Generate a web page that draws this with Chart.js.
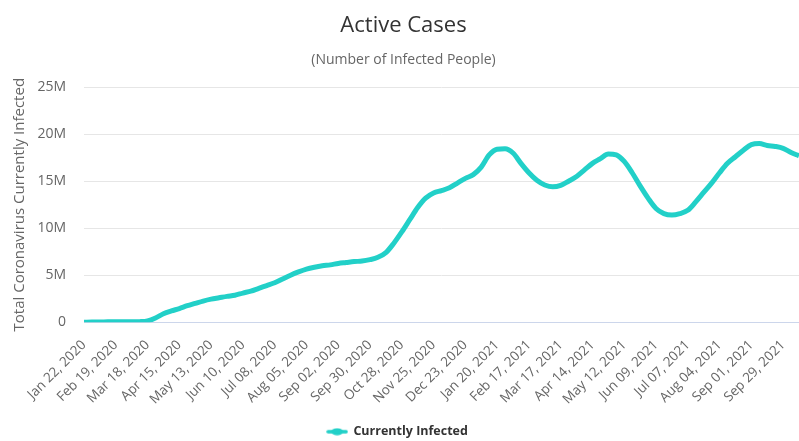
<!DOCTYPE html>
<html>
<head>
<meta charset="utf-8">
<script src="https://cdn.jsdelivr.net/npm/chart.js@4/dist/chart.umd.min.js"></script>
<style>
  body { margin: 0; background: #fff; }
  #wrap { width: 799px; height: 441px; }
</style>
</head>
<body>
<div id="wrap"><canvas id="active-chart"></canvas></div>
<script>
// weekly dates, every 4th one gets a label
var dates = [
  'Jan 22, 2020','Jan 29, 2020','Feb 05, 2020','Feb 12, 2020','Feb 19, 2020','Feb 26, 2020','Mar 04, 2020','Mar 11, 2020',
  'Mar 18, 2020','Mar 25, 2020','Apr 01, 2020','Apr 08, 2020','Apr 15, 2020','Apr 22, 2020','Apr 29, 2020','May 06, 2020',
  'May 13, 2020','May 20, 2020','May 27, 2020','Jun 03, 2020','Jun 10, 2020','Jun 17, 2020','Jun 24, 2020','Jul 01, 2020',
  'Jul 08, 2020','Jul 15, 2020','Jul 22, 2020','Jul 29, 2020','Aug 05, 2020','Aug 12, 2020','Aug 19, 2020','Aug 26, 2020',
  'Sep 02, 2020','Sep 09, 2020','Sep 16, 2020','Sep 23, 2020','Sep 30, 2020','Oct 07, 2020','Oct 14, 2020','Oct 21, 2020',
  'Oct 28, 2020','Nov 04, 2020','Nov 11, 2020','Nov 18, 2020','Nov 25, 2020','Dec 02, 2020','Dec 09, 2020','Dec 16, 2020',
  'Dec 23, 2020','Dec 30, 2020','Jan 06, 2021','Jan 13, 2021','Jan 20, 2021','Jan 27, 2021','Feb 03, 2021','Feb 10, 2021',
  'Feb 17, 2021','Feb 24, 2021','Mar 03, 2021','Mar 10, 2021','Mar 17, 2021','Mar 24, 2021','Mar 31, 2021','Apr 07, 2021',
  'Apr 14, 2021','Apr 21, 2021','Apr 28, 2021','May 05, 2021','May 12, 2021','May 19, 2021','May 26, 2021','Jun 02, 2021',
  'Jun 09, 2021','Jun 16, 2021','Jun 23, 2021','Jun 30, 2021','Jul 07, 2021','Jul 14, 2021','Jul 21, 2021','Jul 28, 2021',
  'Aug 04, 2021','Aug 11, 2021','Aug 18, 2021','Aug 25, 2021','Sep 01, 2021','Sep 08, 2021','Sep 15, 2021','Sep 22, 2021',
  'Sep 29, 2021','Oct 06, 2021','Oct 13, 2021'
];

// active cases, millions
var currentlyInfected = [
  0.005, 0.01, 0.02, 0.04, 0.05, 0.05, 0.045, 0.06,
  0.14, 0.45, 0.9, 1.2, 1.45, 1.75, 2.0, 2.25,
  2.45, 2.6, 2.75, 2.87, 3.1, 3.3, 3.6, 3.9,
  4.2, 4.6, 5.0, 5.35, 5.65, 5.85, 6.0, 6.1,
  6.25, 6.35, 6.45, 6.5, 6.65, 6.9, 7.4, 8.4,
  9.6, 10.9, 12.2, 13.2, 13.75, 14.0, 14.3, 14.8,
  15.3, 15.7, 16.5, 17.8, 18.4, 18.45, 18.0, 16.9,
  15.9, 15.1, 14.6, 14.4, 14.55, 15.0, 15.5, 16.2,
  16.9, 17.4, 17.9, 17.8, 17.1, 15.9, 14.5, 13.2,
  12.1, 11.55, 11.4, 11.55, 11.9, 12.8, 13.8, 14.8,
  15.9, 16.9, 17.6, 18.3, 18.9, 19.0, 18.8, 18.7,
  18.5, 18.05, 17.7
];

var yTicks = [0, 5, 10, 15, 20, 25];

var teal = '#22d0c8';
var font = "'Open Sans', sans-serif";

// legend symbol: line with a wider marker in the middle
var sym = document.createElement('canvas');
sym.width = 22; sym.height = 8;
var sc = sym.getContext('2d');
sc.strokeStyle = teal; sc.fillStyle = teal;
sc.lineWidth = 3.5; sc.lineCap = 'round';
sc.beginPath(); sc.moveTo(2, 4); sc.lineTo(20, 4); sc.stroke();
sc.beginPath(); sc.ellipse(11, 4, 6, 3.4, 0, 0, Math.PI * 2); sc.fill();

// nudge the legend a little left of the page centre, as in the original
var legendNudge = {
  id: 'legendNudge',
  afterLayout: function(chart) {
    chart.legend.left -= 6;
    chart.legend.right -= 6;
  }
};

var ctx = document.getElementById('active-chart');
new Chart(ctx, {
  type: 'line',
  data: {
    labels: dates,
    datasets: [{
      label: 'Currently Infected',
      data: currentlyInfected,
      borderColor: teal,
      backgroundColor: teal,
      borderWidth: 5,
      pointRadius: 0,
      pointStyle: sym,
      cubicInterpolationMode: 'monotone',
      fill: false
    }]
  },
  plugins: [legendNudge],
  options: {
    responsive: true,
    maintainAspectRatio: false,
    animation: false,
    layout: { padding: { left: 8, right: 0, top: 0, bottom: -7 } },
    plugins: {
      title: {
        display: true,
        text: 'Active Cases',
        color: '#333333',
        font: { family: font, size: 22, weight: 'normal' },
        padding: { top: 13, bottom: 12 }
      },
      subtitle: {
        display: true,
        text: '(Number of Infected People)',
        color: '#666666',
        font: { family: font, size: 14, weight: 'normal' },
        padding: { top: 0, bottom: 19 }
      },
      legend: {
        position: 'bottom',
        labels: {
          usePointStyle: true,
          pointStyleWidth: 20,
          boxHeight: 8,
          padding: 3,
          color: '#333333',
          font: { family: font, size: 12.5, weight: 'bold' }
        }
      },
      tooltip: { enabled: false }
    },
    scales: {
      x: {
        offset: false,
        afterFit: function(s) { s.paddingLeft = 0; s.paddingRight = 0; },
        grid: { display: false, drawTicks: false },
        border: { display: true, color: '#ccd6eb' },
        ticks: {
          autoSkip: false,
          minRotation: 45,
          maxRotation: 45,
          padding: 15,
          color: '#666666',
          font: { family: font, size: 13.5 },
          callback: function(val, i) { return i % 4 === 0 ? dates[i] : null; }
        }
      },
      y: {
        min: 0,
        max: 25,
        afterBuildTicks: function(axis) { axis.ticks = yTicks.map(function(v) { return { value: v }; }); },
        afterFit: function(s) { s.width = 76; },
        grid: { color: '#e6e6e6', drawTicks: false },
        border: { display: false },
        title: {
          display: true,
          text: 'Total Coronavirus Currently Infected',
          color: '#666666',
          font: { family: font, size: 15, weight: 'normal' },
          padding: { top: 3, bottom: 0 }
        },
        ticks: {
          padding: 18,
          color: '#666666',
          font: { family: font, size: 14 },
          callback: function(v) { return v === 0 ? '0' : v + 'M'; }
        }
      }
    }
  }
});
</script>
</body>
</html>
